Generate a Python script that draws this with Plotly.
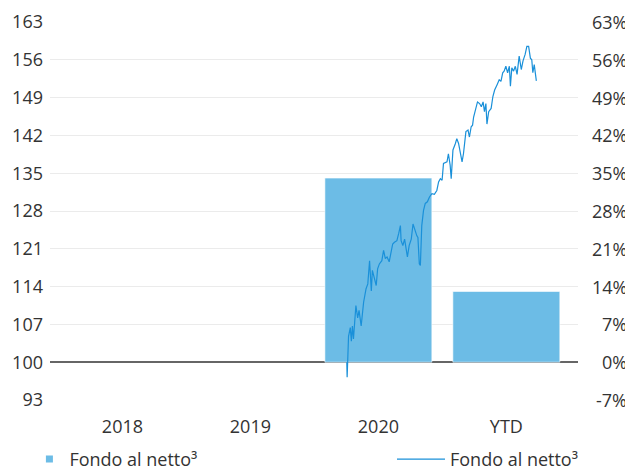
import pandas as pd
import plotly.graph_objects as go

# ---- data ----
categories = ["2018", "2019", "2020", "YTD"]
category_years = [2018, 2019, 2020, 2021]
bar_values = [None, None, 34.1, 13.1]          # % (right axis)
pct_ticks = [-7, 0, 7, 14, 21, 28, 35, 42, 49, 56, 63]
idx_ticks = [93, 100, 107, 114, 121, 128, 135, 142, 149, 156, 163]

base_date = "2020-01-01"
line_days = [93, 94, 98, 103, 106, 109, 112, 119, 124, 128, 134, 141, 148, 153, 158,
             163, 166, 172, 177, 181, 186, 193, 198, 203, 208, 214, 219, 224, 229, 236,
             241, 246, 248, 253, 258, 263, 266, 271, 277, 282, 286, 293, 296, 300, 303,
             307, 312, 317, 323, 329, 336, 343, 350, 355, 360, 365, 369, 379, 383, 388,
             391, 396, 403, 407, 412, 417, 422, 426, 433, 439, 443, 448, 452, 455, 460,
             466, 472, 477, 482, 486, 490, 493, 498, 505, 510, 515, 522, 528, 533, 538,
             542, 547, 552, 557, 560, 564, 569, 574, 579, 585, 591, 596, 602, 607, 612,
             617, 621, 624, 628, 631, 634]
line_values = [100.0, 97.2, 104.8, 106.4, 103.9, 106.7, 104.3, 110.5, 108.2, 109.6, 106.7,
               111.1, 113.6, 114.5, 118.8, 113.2, 117.0, 115.7, 114.2, 117.3, 118.2, 118.8,
               120.7, 119.2, 119.5, 118.6, 120.7, 121.9, 122.2, 122.5, 123.8, 125.3, 122.5,
               121.6, 122.8, 121.0, 119.5, 121.6, 122.8, 125.6, 124.7, 123.4, 123.1, 118.2,
               117.9, 125.3, 128.1, 129.4, 129.7, 130.6, 131.2, 131.1, 131.8, 133.4, 134.0,
               133.7, 136.8, 137.1, 138.6, 136.5, 134.0, 139.3, 140.5, 141.4, 140.5, 139.0,
               137.1, 138.6, 142.7, 143.0, 141.7, 143.6, 143.9, 145.4, 146.7, 148.2, 147.9,
               147.3, 148.2, 146.4, 147.9, 144.1, 146.4, 147.0, 149.2, 150.4, 151.4, 152.3,
               152.0, 153.6, 153.9, 154.8, 153.6, 154.8, 151.1, 154.5, 153.9, 154.8, 153.3,
               156.7, 154.2, 155.8, 157.0, 158.5, 158.5, 156.3, 156.0, 153.6, 155.1, 153.9,
               152.1]
series_name = "Fondo al netto³"

# ---- styles ----
FONT = "Open Sans"
TXT = "#333333"
BAR_COLOR = "#6CBCE6"
LINE_COLOR = "#1A90D9"
x_range = [-0.566, 3.56]

# category positions: each category spans one calendar year centred on its index
cat_pos = list(range(len(categories)))
line_dates = pd.Timestamp(base_date) + pd.to_timedelta(line_days, unit="D")
first_year = pd.Timestamp(f"{category_years[0]}-01-01")
line_x = [(d - first_year).days / 365.25 - 0.5 for d in line_dates]

fig = go.Figure()
# bars on the percentage axis (y, right side); line on the index axis (y2, left side, on top)
fig.add_trace(go.Bar(x=cat_pos, y=bar_values,
                     marker=dict(color=BAR_COLOR, line=dict(color="rgba(255,255,255,0.6)", width=1)),
                     yaxis="y", showlegend=False, name=series_name))
fig.add_trace(go.Scatter(x=[None], y=[None], mode="markers", name=series_name,
                         marker=dict(symbol="square", size=7, color=BAR_COLOR),
                         yaxis="y", legend="legend", showlegend=True))
fig.add_trace(go.Scatter(x=line_x, y=line_values, mode="lines", name=series_name,
                         line=dict(color=LINE_COLOR, width=1.2),
                         yaxis="y2", legend="legend2"))

annotations = [dict(x=1.0966, y=v, xref="paper", yref="y", text=f"{v}%",
                    showarrow=False, xanchor="right", yanchor="middle",
                    font=dict(family=FONT, size=18, color=TXT)) for v in pct_ticks]

fig.update_layout(
    width=625, height=462,
    margin=dict(l=42, r=55, t=14, b=70, autoexpand=False),
    paper_bgcolor="white", plot_bgcolor="white",
    font=dict(family=FONT, size=18, color=TXT),
    bargap=0.164,
    xaxis=dict(range=x_range, tickvals=cat_pos, ticktext=categories, showgrid=False,
               zeroline=False, showline=False, ticks="", ticklabelstandoff=14,
               tickfont=dict(family=FONT, size=18, color=TXT)),
    yaxis=dict(range=[-7, 63], side="right", showgrid=False,
               zeroline=True, zerolinecolor="#666666", zerolinewidth=1.5,
               showticklabels=False, ticks=""),
    yaxis2=dict(range=[93, 163], overlaying="y", side="left", tickvals=idx_ticks,
                showgrid=True, gridcolor="#EBEBEB", gridwidth=1, zeroline=False,
                showline=False, ticks="", ticklabelstandoff=6,
                tickfont=dict(family=FONT, size=18, color=TXT)),
    legend=dict(orientation="h", x=-0.039, xanchor="left", y=-0.157, yanchor="middle",
                font=dict(family=FONT, size=18, color=TXT), bgcolor="rgba(0,0,0,0)"),
    legend2=dict(orientation="h", x=0.6477, xanchor="left", y=-0.157, yanchor="middle",
                 itemwidth=48,
                 font=dict(family=FONT, size=18, color=TXT), bgcolor="rgba(0,0,0,0)"),
    annotations=annotations,
)

fig.write_html("out.html")
